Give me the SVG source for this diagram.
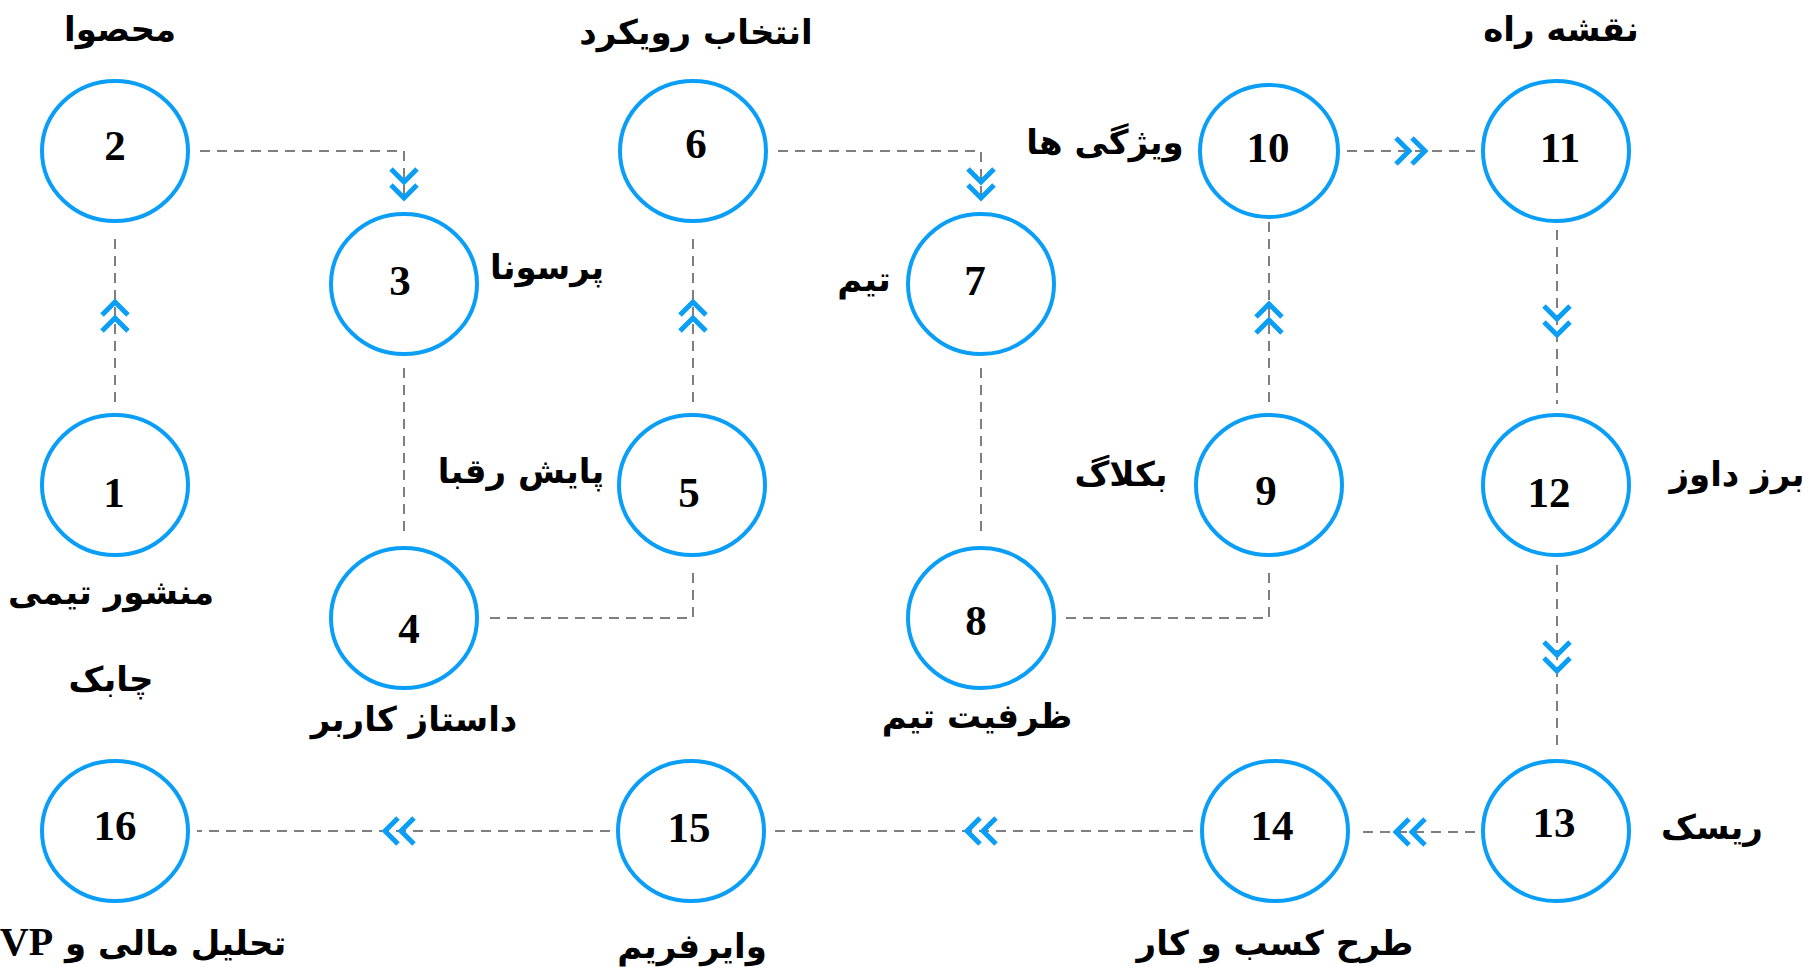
<svg xmlns="http://www.w3.org/2000/svg" xmlns:xlink="http://www.w3.org/1999/xlink" width="1810" height="967" viewBox="0 0 1810 967">
<style>
.node ellipse{fill:#ffffff;stroke:#0A9EF6;stroke-width:4}
.num{font-family:"Liberation Serif","Times New Roman",serif;font-weight:bold;font-size:43px;fill:#000;text-anchor:middle}
.lbl{font-family:"DejaVu Sans","Noto Sans",sans-serif;font-weight:bold;font-size:34px;fill:#000;text-anchor:middle;direction:rtl}
.lat{font-family:"Liberation Serif","Times New Roman",serif;font-size:40px}
.conn path.line{fill:none;stroke:#555;stroke-width:1.5;stroke-dasharray:10 7}
.chev{fill:none;stroke:#0A9EF6;stroke-width:5;stroke-linejoin:miter}
</style>
<defs>
<path id="chev" class="chev" d="M-13,-31 L0,-18 L13,-31 M-13,-15 L0,-2 L13,-15"/>
</defs>
<rect width="1810" height="967" fill="#ffffff"/>
<g id="connectors" class="conn">
<path class="line" d="M115,402 L115,235"/>
<path class="line" d="M200,151 L404,151 L404,200"/>
<path class="line" d="M404,368 L404,535"/>
<path class="line" d="M490,618 L693,618 L693,568"/>
<path class="line" d="M693,402 L693,235"/>
<path class="line" d="M778,151 L981,151 L981,200"/>
<path class="line" d="M981,368 L981,535"/>
<path class="line" d="M1066,618 L1269,618 L1269,568"/>
<path class="line" d="M1269,402 L1269,220"/>
<path class="line" d="M1347,151 L1475,151"/>
<path class="line" d="M1557,230 L1557,404"/>
<path class="line" d="M1557,565 L1557,750"/>
<path class="line" d="M1475,832 L1356,832"/>
<path class="line" d="M1193,831 L769,831"/>
<path class="line" d="M610,831 L197,831"/>
<use xlink:href="#chev" transform="translate(115,300) rotate(180)"/>
<use xlink:href="#chev" transform="translate(404,200)"/>
<use xlink:href="#chev" transform="translate(693,300) rotate(180)"/>
<use xlink:href="#chev" transform="translate(981,200)"/>
<use xlink:href="#chev" transform="translate(1269,302) rotate(180)"/>
<use xlink:href="#chev" transform="translate(1427,151) rotate(-90)"/>
<use xlink:href="#chev" transform="translate(1557,337)"/>
<use xlink:href="#chev" transform="translate(1557,673)"/>
<use xlink:href="#chev" transform="translate(1394,832) rotate(90)"/>
<use xlink:href="#chev" transform="translate(965,831) rotate(90)"/>
<use xlink:href="#chev" transform="translate(383,831) rotate(90)"/>
</g>
<g id="node1" class="node"><ellipse cx="115" cy="485" rx="73" ry="70"/><text class="num" x="114" y="507">1</text><text class="lbl" x="111" y="604">منشور تیمی</text><text class="lbl" x="111" y="691">چابک</text></g>
<g id="node2" class="node"><ellipse cx="115" cy="151" rx="73" ry="70"/><text class="num" x="115" y="160">2</text><text class="lbl" x="120" y="41">محصوا</text></g>
<g id="node3" class="node"><ellipse cx="404" cy="284" rx="73" ry="70"/><text class="num" x="400" y="295">3</text><text class="lbl" x="547" y="279">پرسونا</text></g>
<g id="node4" class="node"><ellipse cx="404" cy="618" rx="73" ry="70"/><text class="num" x="409" y="643">4</text><text class="lbl" x="414" y="731">داستاز کاربر</text></g>
<g id="node5" class="node"><ellipse cx="692" cy="485" rx="73" ry="70"/><text class="num" x="689" y="507">5</text><text class="lbl" x="521" y="483">پایش رقبا</text></g>
<g id="node6" class="node"><ellipse cx="693" cy="151" rx="73" ry="70"/><text class="num" x="696" y="158">6</text><text class="lbl" x="696" y="44">انتخاب رویکرد</text></g>
<g id="node7" class="node"><ellipse cx="981" cy="284" rx="73" ry="70"/><text class="num" x="975" y="295">7</text><text class="lbl" x="864" y="291">تیم</text></g>
<g id="node8" class="node"><ellipse cx="981" cy="618" rx="73" ry="70"/><text class="num" x="976" y="635">8</text><text class="lbl" x="977" y="728">ظرفیت تیم</text></g>
<g id="node9" class="node"><ellipse cx="1269" cy="485" rx="73" ry="70"/><text class="num" x="1266" y="505">9</text><text class="lbl" x="1121" y="486">بکلاگ</text></g>
<g id="node10" class="node"><ellipse cx="1269" cy="151" rx="69" ry="66"/><text class="num" x="1268" y="162">10</text><text class="lbl" x="1105" y="154">ویژگی ها</text></g>
<g id="node11" class="node"><ellipse cx="1556" cy="151" rx="73" ry="70"/><text class="num" x="1560" y="162">11</text><text class="lbl" x="1561" y="41">نقشه راه</text></g>
<g id="node12" class="node"><ellipse cx="1556" cy="485" rx="73" ry="70"/><text class="num" x="1549" y="507">12</text><text class="lbl" x="1737" y="486">برز داوز</text></g>
<g id="node13" class="node"><ellipse cx="1556" cy="831" rx="73" ry="70"/><text class="num" x="1554" y="837">13</text><text class="lbl" x="1712" y="839">ریسک</text></g>
<g id="node14" class="node"><ellipse cx="1275" cy="831" rx="73" ry="70"/><text class="num" x="1272" y="840">14</text><text class="lbl" x="1275" y="955">طرح کسب و کار</text></g>
<g id="node15" class="node"><ellipse cx="691" cy="831" rx="73" ry="70"/><text class="num" x="689" y="842">15</text><text class="lbl" x="692" y="958">وایرفریم</text></g>
<g id="node16" class="node"><ellipse cx="115" cy="831" rx="73" ry="70"/><text class="num" x="115" y="840">16</text><text class="lbl" x="143" y="955">تحلیل مالی و <tspan class="lat">VP</tspan></text></g>
</svg>
